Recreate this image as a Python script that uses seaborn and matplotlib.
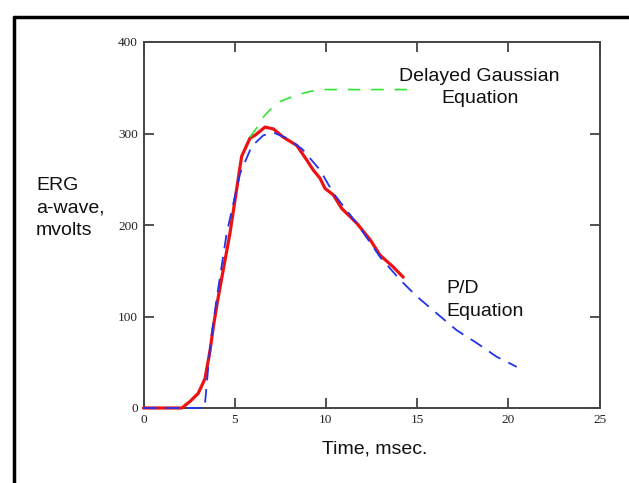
import matplotlib
matplotlib.use("Agg")
import matplotlib.pyplot as plt
import seaborn as sns
import pandas as pd
from matplotlib.lines import Line2D

# Measured ERG a-wave (red)
red_x = [0, 1, 2.1, 2.54, 3.0, 3.37, 3.65, 3.83, 4.07, 4.74, 5.38, 5.84, 6.11, 6.66, 7.12,
         7.66, 8.4, 8.95, 9.31, 9.68, 9.95, 10.4, 10.87, 11.69, 12.42, 12.97, 13.7, 14.24]
red_y = [0, 0, 0, 7, 16, 32, 63, 89, 118, 191, 275, 295, 298, 307, 305,
         296, 287, 271, 260, 251, 240, 233, 218, 202, 184, 167, 154, 143]

# P/D equation (blue dashed)
blue_x = [0, 3.35, 3.65, 4.0, 4.56, 5.29, 5.93, 6.57, 7.12, 7.85, 8.7, 9.68, 10.4,
          11.76, 12.97, 14.07, 14.98, 16.07, 17.17, 18.27, 19.36, 20.46]
blue_y = [0, 0, 67, 118, 191, 256, 286, 298, 301, 295, 283, 260, 235,
          200, 165, 140, 122, 103.5, 85, 71, 56, 45]

# Delayed Gaussian equation (green dashed)
green_x = [5.84, 6.2, 6.57, 6.94, 7.48, 8.4, 9.13, 9.77, 11, 13, 14.9]
green_y = [296, 306, 318, 326, 335, 342, 346, 348, 348, 348, 348]

x_ticks = [0, 5, 10, 15, 20, 25]
y_ticks = [0, 100, 200, 300, 400]

sns.set_theme(style="white")
plt.rcParams['font.family'] = ['Liberation Sans', 'DejaVu Sans']

fig = plt.figure(figsize=(6.29, 4.83), dpi=100)
ax = fig.add_axes([143.5/629, 1-408/483, (599.5-143.5)/629, (408-42)/483])

red_df = pd.DataFrame({"t": red_x, "v": red_y})
blue_df = pd.DataFrame({"t": blue_x, "v": blue_y})
green_df = pd.DataFrame({"t": green_x, "v": green_y})

sns.lineplot(data=red_df, x="t", y="v", sort=False, color="#ee1111", lw=2.3, ax=ax)
sns.lineplot(data=blue_df, x="t", y="v", sort=False, color="#2233ee", lw=1.3,
             linestyle=(0, (7.5, 4.8)), ax=ax)
sns.lineplot(data=green_df, x="t", y="v", sort=False, color="#33e633", lw=1.2,
             linestyle=(0, (7.5, 6.5)), ax=ax)
for ln in ax.get_lines():
    ln.set_clip_on(False)
    ln.set_zorder(3)

ax.set_xlim(0, 25)
ax.set_ylim(0, 400)
ax.set_xticks(x_ticks)
ax.set_yticks(y_ticks)
ax.set_xticklabels([str(v) for v in x_ticks], family='Liberation Serif', fontsize=9.5)
ax.set_yticklabels([str(v) for v in y_ticks], family='Liberation Serif', fontsize=9.5)
ax.tick_params(direction='in', length=7.5, width=1.2, color='#333333',
               top=True, right=True, bottom=True, left=True, pad=4,
               labelcolor='#222222')
ax.tick_params(axis='x', labeltop=False)
ax.tick_params(axis='y', labelright=False)
for s in ax.spines.values():
    s.set_color('#444444')
    s.set_linewidth(1.4)
    s.set_visible(True)
    s.set_zorder(2)

ax.set_xlabel("")
ax.set_ylabel("")
fig.text(375/629, 1-449/483, "Time, msec.", ha='center', va='center', fontsize=14, color='#111111')
fig.text(36/629, 1-208/483, "ERG\na-wave,\nmvolts", ha='left', va='center', fontsize=14,
         linespacing=1.42, color='#111111')

ax.text(18.43, 350, "Delayed Gaussian\nEquation", ha='center', va='center', fontsize=14,
        linespacing=1.42, color='#111111')
ax.text(16.6, 118, "P/D\nEquation", ha='left', va='center', fontsize=14,
        linespacing=1.42, color='#111111')

# outer frame (left and top edges)
fig.add_artist(Line2D([14/629, 14/629], [0, 1-17/483], transform=fig.transFigure,
                      color='black', lw=2.5))
fig.add_artist(Line2D([14/629, 1], [1-17/483, 1-17/483], transform=fig.transFigure,
                      color='black', lw=2.5))

fig.savefig("out.png", dpi=100)
